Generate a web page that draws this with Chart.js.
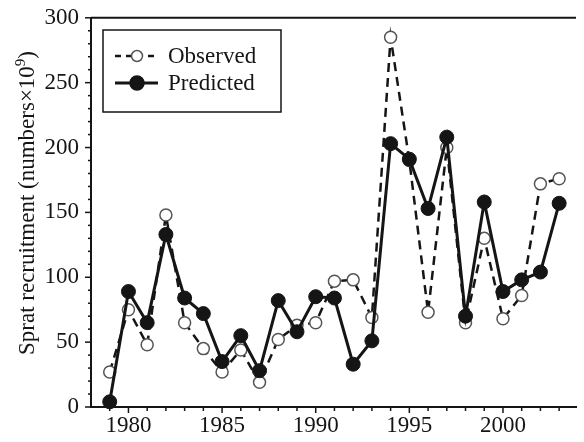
<!DOCTYPE html>
<html>
<head>
<meta charset="utf-8">
<script src="https://cdn.jsdelivr.net/npm/chart.js@4.4.1/dist/chart.umd.min.js"></script>
<style>
  html, body { margin: 0; padding: 0; background: #fff; }
  #wrap { width: 584px; height: 442px; }
</style>
</head>
<body>
<div id="wrap"><canvas id="chart" width="584" height="442"></canvas></div>
<script>
// Sprat recruitment, observed vs predicted
const years = [1979, 1980, 1981, 1982, 1983, 1984, 1985, 1986, 1987, 1988, 1989, 1990,
  1991, 1992, 1993, 1994, 1995, 1996, 1997, 1998, 1999, 2000, 2001, 2002, 2003];
const observed = [27, 75, 48, 148, 65, 45, 27, 44, 19, 52, 63, 65,
  97, 98, 69, 285, 190, 73, 200, 65, 130, 68, 86, 172, 176];
const predicted = [4, 89, 65, 133, 84, 72, 35, 55, 28, 82, 58, 85,
  84, 33, 51, 203, 191, 153, 208, 70, 158, 89, 98, 104, 157];
const xTickLabels = [1980, 1985, 1990, 1995, 2000];
const yTickLabels = [0, 50, 100, 150, 200, 250, 300];

const FONT = '"Liberation Serif", "Times New Roman", serif';
const INK = '#151515';

function toPoints(values) {
  return years.map((yr, i) => ({ x: yr, y: values[i] }));
}

// top border + outward tick marks
const framePlugin = {
  id: 'frame',
  afterDraw(chart) {
    const { ctx, chartArea: a, scales: { x, y } } = chart;
    ctx.save();
    ctx.strokeStyle = INK;
    ctx.lineWidth = 2;
    ctx.beginPath();
    ctx.moveTo(a.left, a.top);
    ctx.lineTo(a.right, a.top);
    ctx.stroke();

    ctx.lineWidth = 1.5;
    years.forEach((yr) => {
      const px = x.getPixelForValue(yr);
      const len = yr % 5 === 0 ? 6 : 4;
      ctx.beginPath();
      ctx.moveTo(px, a.bottom);
      ctx.lineTo(px, a.bottom + len);
      ctx.stroke();
    });
    for (let v = 0; v <= 300; v += 10) {
      const py = y.getPixelForValue(v);
      const len = v % 50 === 0 ? 6 : 3;
      ctx.beginPath();
      ctx.moveTo(a.left, py);
      ctx.lineTo(a.left - len, py);
      ctx.stroke();
    }
    ctx.restore();
  }
};

// rotated y title with superscript
const yTitlePlugin = {
  id: 'yTitle',
  afterDraw(chart) {
    const { ctx } = chart;
    const main = 'Sprat recruitment (numbers\u00d710';
    const sup = '9';
    const tail = ')';
    ctx.save();
    ctx.fillStyle = INK;
    ctx.textBaseline = 'alphabetic';
    ctx.font = '23px ' + FONT;
    const w1 = ctx.measureText(main).width;
    const w3 = ctx.measureText(tail).width;
    ctx.font = '15px ' + FONT;
    const w2 = ctx.measureText(sup).width;
    const total = w1 + w2 + w3;
    ctx.translate(34, 203);
    ctx.rotate(-Math.PI / 2);
    let cx = -total / 2;
    ctx.font = '23px ' + FONT;
    ctx.fillText(main, cx, 0);
    cx += w1;
    ctx.font = '15px ' + FONT;
    ctx.fillText(sup, cx, -9);
    cx += w2;
    ctx.font = '23px ' + FONT;
    ctx.fillText(tail, cx, 0);
    ctx.restore();
  }
};

// legend box with line + marker samples
const legendPlugin = {
  id: 'boxLegend',
  afterDraw(chart) {
    const { ctx } = chart;
    ctx.save();
    ctx.strokeStyle = INK;
    ctx.lineWidth = 1.5;
    ctx.strokeRect(103, 30, 178, 82);

    const rows = [
      { label: 'Observed', y: 56, dash: [6, 5], filled: false, r: 5.5 },
      { label: 'Predicted', y: 83, dash: [], filled: true, r: 7 }
    ];
    rows.forEach((row) => {
      ctx.strokeStyle = INK;
      ctx.lineWidth = row.filled ? 3 : 2.5;
      ctx.setLineDash(row.dash);
      ctx.beginPath();
      ctx.moveTo(115, row.y);
      ctx.lineTo(158, row.y);
      ctx.stroke();
      ctx.setLineDash([]);
      ctx.beginPath();
      ctx.arc(137, row.y, row.r, 0, Math.PI * 2);
      ctx.fillStyle = row.filled ? INK : '#fff';
      ctx.fill();
      ctx.lineWidth = 1.5;
      ctx.strokeStyle = row.filled ? INK : '#555';
      ctx.stroke();

      ctx.fillStyle = INK;
      ctx.font = '23px ' + FONT;
      ctx.textBaseline = 'middle';
      ctx.fillText(row.label, 168, row.y + 1);
    });
    ctx.restore();
  }
};

new Chart(document.getElementById('chart'), {
  type: 'line',
  data: {
    datasets: [
      {
        label: 'Predicted',
        data: toPoints(predicted),
        borderColor: INK,
        borderWidth: 3,
        pointRadius: 7,
        pointBackgroundColor: INK,
        pointBorderColor: INK,
        pointBorderWidth: 1,
        tension: 0,
        clip: false,
        order: 0
      },
      {
        label: 'Observed',
        data: toPoints(observed),
        borderColor: INK,
        borderWidth: 2.5,
        borderDash: [9, 6],
        pointRadius: 6,
        pointBackgroundColor: '#fff',
        pointBorderColor: '#555',
        pointBorderWidth: 1.5,
        tension: 0,
        clip: false,
        order: 1
      }
    ]
  },
  options: {
    responsive: false,
    animation: false,
    layout: { padding: { left: 0, right: 0, top: 12, bottom: 0 } },
    plugins: {
      legend: { display: false },
      tooltip: { enabled: false },
      title: { display: false }
    },
    scales: {
      x: {
        type: 'linear',
        min: 1978,
        max: 2003.9,
        grid: { display: false },
        border: { display: true, color: INK, width: 2 },
        afterBuildTicks: (scale) => { scale.ticks = xTickLabels.map((v) => ({ value: v })); },
        afterFit: (scale) => { scale.height = 35; },
        ticks: {
          color: INK,
          font: { family: FONT, size: 23 },
          padding: -3,
          maxRotation: 0,
          autoSkip: false,
          callback: (v) => String(v)
        }
      },
      y: {
        min: 0,
        max: 300,
        grid: { display: false },
        border: { display: true, color: INK, width: 2 },
        afterBuildTicks: (scale) => { scale.ticks = yTickLabels.map((v) => ({ value: v })); },
        afterFit: (scale) => { scale.width = 91; },
        ticks: {
          color: INK,
          font: { family: FONT, size: 23 },
          padding: 4,
          autoSkip: false
        }
      }
    }
  },
  plugins: [framePlugin, yTitlePlugin, legendPlugin]
});
</script>
</body>
</html>
